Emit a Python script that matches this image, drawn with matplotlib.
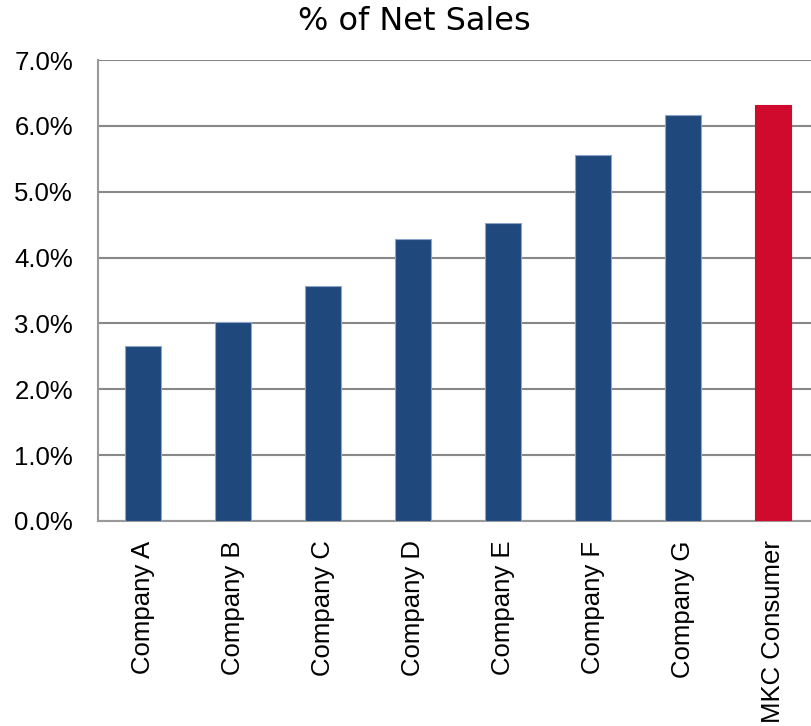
import matplotlib.pyplot as plt
from matplotlib.ticker import FuncFormatter

companies = ["Company A", "Company B", "Company C", "Company D",
             "Company E", "Company F", "Company G", "MKC Consumer"]
pct_net_sales = [2.66, 3.02, 3.57, 4.28, 4.52, 5.55, 6.16, 6.31]
bar_colors = ["#1F497D"] * 7 + ["#D00A2C"]
edge_colors = ["#8EA4C8"] * 7 + ["#D00A2C"]

fig = plt.figure(figsize=(8.12, 7.26), dpi=100)
ax = fig.add_axes([98 / 812, 1 - 521 / 726, 720 / 812, 461 / 726])

x = range(len(companies))
ax.bar(x, pct_net_sales, width=0.4, color=bar_colors, edgecolor=edge_colors,
       linewidth=0.8, zorder=3)

ax.set_xlim(-0.5, 7.5)
ax.set_ylim(0, 7)
ax.set_yticks(range(8))
ax.yaxis.set_major_formatter(FuncFormatter(lambda v, p: f"{v:.1f}%"))
ax.grid(axis="y", color="#888888", linewidth=1.5, zorder=0)

ax.set_xticks(list(x))
ax.set_xticklabels(companies, rotation=90, fontsize=18.5, family="Liberation Sans")
for lbl in ax.get_yticklabels():
    lbl.set_fontsize(18.5)
    lbl.set_family("Liberation Sans")
ax.tick_params(axis="y", length=0, pad=18)
ax.tick_params(axis="x", length=0, pad=14)

for s in ["top", "right"]:
    ax.spines[s].set_visible(False)
for s in ["left", "bottom"]:
    ax.spines[s].set_color("#999999")
    ax.spines[s].set_linewidth(1.5)

fig.text(414 / 812, 1 - 22 / 726, "% of Net Sales", ha="center", va="center",
         fontsize=23, family="DejaVu Sans")

fig.savefig("out.png", dpi=100)
